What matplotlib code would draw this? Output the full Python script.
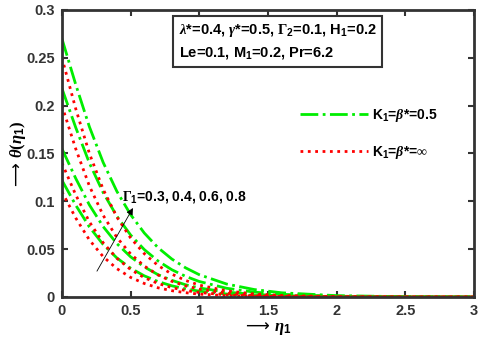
import matplotlib
matplotlib.use("Agg")
import matplotlib.pyplot as plt

eta = [0, 0.1, 0.2, 0.3, 0.4, 0.5, 0.6, 0.7, 0.8, 0.9, 1.0, 1.2, 1.4, 1.6, 2.0, 2.5, 3.0]

# K1 = beta* = 0.5 (green), Gamma1 = 0.8, 0.6, 0.4, 0.3
green_g08 = [0.270, 0.2223, 0.1779, 0.1407, 0.1104, 0.0861, 0.0668, 0.0515, 0.0397, 0.0305, 0.0233, 0.0135, 0.0078, 0.0044, 0.0014, 0.0003, 0.0001]
green_g06 = [0.218, 0.1773, 0.1400, 0.1092, 0.0844, 0.0648, 0.0495, 0.0376, 0.0285, 0.0216, 0.0162, 0.0091, 0.0051, 0.0028, 0.0008, 0.0002, 0.0]
green_g04 = [0.155, 0.1241, 0.0962, 0.0736, 0.0558, 0.0420, 0.0314, 0.0233, 0.0174, 0.0128, 0.0094, 0.0051, 0.0027, 0.0014, 0.0004, 0.0001, 0.0]
green_g03 = [0.122, 0.0961, 0.0732, 0.0549, 0.0408, 0.0301, 0.0221, 0.0161, 0.0117, 0.0085, 0.0061, 0.0031, 0.0016, 0.0008, 0.0002, 0.0, 0.0]

# K1 = beta* = infinity (red)
red_g08 = [0.250, 0.1970, 0.1500, 0.1126, 0.0836, 0.0617, 0.0452, 0.0329, 0.0239, 0.0173, 0.0124, 0.0064, 0.0032, 0.0016, 0.0004, 0.0, 0.0]
red_g06 = [0.200, 0.1551, 0.1160, 0.0854, 0.0622, 0.0450, 0.0323, 0.0230, 0.0164, 0.0116, 0.0082, 0.0040, 0.0019, 0.0009, 0.0002, 0.0, 0.0]
red_g04 = [0.140, 0.1069, 0.0785, 0.0567, 0.0405, 0.0287, 0.0202, 0.0141, 0.0098, 0.0068, 0.0047, 0.0022, 0.0010, 0.0005, 0.0001, 0.0, 0.0]
red_g03 = [0.110, 0.0827, 0.0596, 0.0422, 0.0296, 0.0205, 0.0141, 0.0096, 0.0066, 0.0045, 0.0030, 0.0014, 0.0006, 0.0003, 0.0, 0.0, 0.0]

greens = [green_g08, green_g06, green_g04, green_g03]
reds = [red_g08, red_g06, red_g04, red_g03]

xticks = [0, 0.5, 1, 1.5, 2, 2.5, 3]
yticks = [0, 0.05, 0.1, 0.15, 0.2, 0.25, 0.3]

plt.rcParams['font.family'] = ['Liberation Sans', 'DejaVu Sans']
plt.rcParams['font.weight'] = 'bold'
plt.rcParams['mathtext.fontset'] = 'custom'
plt.rcParams['mathtext.rm'] = 'Liberation Serif'
plt.rcParams['mathtext.it'] = 'Liberation Serif:italic'
plt.rcParams['mathtext.bf'] = 'Liberation Sans:bold'
plt.rcParams['mathtext.fallback'] = 'stix'

fig = plt.figure(figsize=(4.8, 3.42), dpi=100)
ax = fig.add_axes([0.129, 0.1316, 0.8585, 0.8394])

for i, g in enumerate(greens):
    ax.plot(eta, g, color='#00ee00', linestyle='-.', linewidth=2.0,
            label=r'K$_\mathbf{1}$=$\beta$*=0.5' if i == 0 else None)
for i, r in enumerate(reds):
    ax.plot(eta, r, color='red', linestyle=':', linewidth=2.0,
            label=r'K$_\mathbf{1}$=$\beta$*=$\infty$' if i == 0 else None)

ax.set_xlim(0, 3)
ax.set_ylim(0, 0.3)
ax.set_xticks(xticks)
ax.set_xticklabels([f'{t:g}' for t in xticks])
ax.set_yticks(yticks)
ax.set_yticklabels([f'{t:g}' for t in yticks])
ax.tick_params(direction='in', top=True, right=True, length=4, width=1.5,
               labelsize=10.5, colors='#333333', pad=5)
for lab in ax.get_xticklabels() + ax.get_yticklabels():
    lab.set_fontweight('bold')
for s in ax.spines.values():
    s.set_linewidth(2)
    s.set_color('#333333')

ax.set_xlabel('\u27f6 $\\eta_\\mathbf{1}$', fontsize=12, labelpad=1,
              family=['DejaVu Sans'], fontweight='normal')
ax.set_ylabel('\u27f6 $\\theta(\\eta_\\mathbf{1})$', fontsize=12,
              family=['DejaVu Sans'], fontweight='normal')
ax.yaxis.set_label_coords(-0.083, 0.5)

ax.text(0.283, 0.958,
        r'$\lambda$*=0.4, $\gamma$*=0.5, $\Gamma_\mathbf{2}$=0.1, H$_\mathbf{1}$=0.2' + '\n'
        + r'Le=0.1, M$_\mathbf{1}$=0.2, Pr=6.2',
        transform=ax.transAxes, fontsize=10.5, fontweight='bold', va='top', ha='left',
        linespacing=1.5,
        bbox=dict(boxstyle='square,pad=0.4', facecolor='white', edgecolor='#333333', linewidth=1.5))

leg = ax.legend(loc='upper left', bbox_to_anchor=(0.548, 0.705), frameon=False,
                handlelength=4.9, labelspacing=1.45, handletextpad=0.3,
                prop={'weight': 'bold', 'size': 10})

ax.annotate('', xy=(0.517, 0.093), xytext=(0.255, 0.027),
            arrowprops=dict(arrowstyle='-|>', color='black', lw=0.6,
                            mutation_scale=10, shrinkA=0, shrinkB=0))
ax.text(0.44, 0.096, r'$\Gamma_\mathbf{1}$=0.3, 0.4, 0.6, 0.8', fontsize=10,
        fontweight='bold', ha='left', va='bottom')

fig.savefig('out.png', dpi=100)
